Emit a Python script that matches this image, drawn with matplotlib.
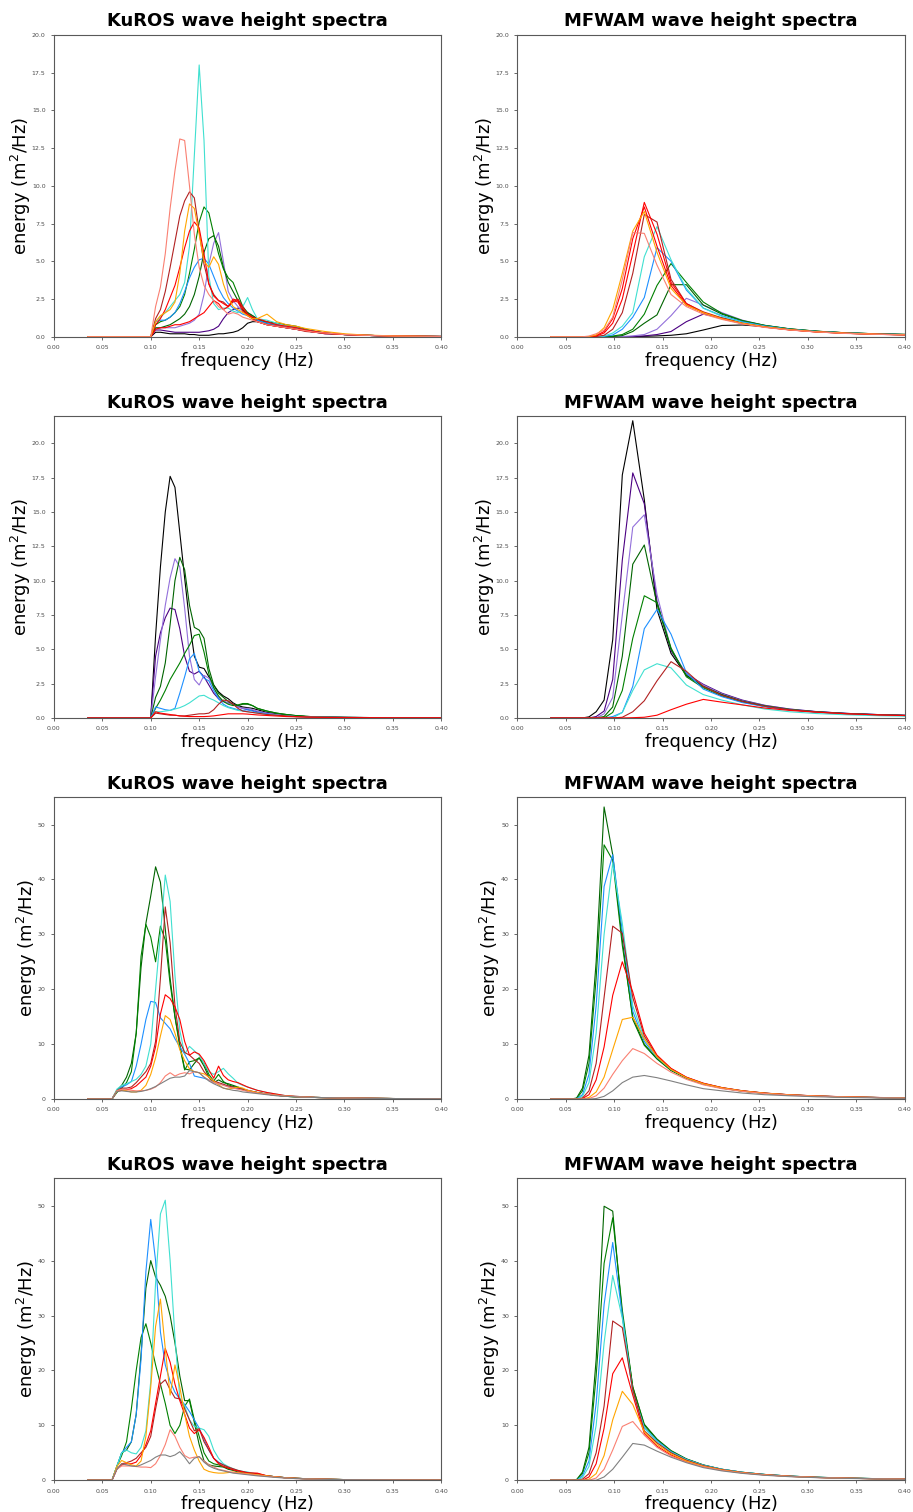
import matplotlib
matplotlib.use('Agg')
import matplotlib.pyplot as plt

# MFWAM frequency bins (Hz)
mfwam_freq = [0.0345, 0.0380, 0.0418, 0.0460, 0.0506, 0.0556, 0.0612, 0.0673, 0.0740,
              0.0814, 0.0896, 0.0985, 0.1084, 0.1192, 0.1311, 0.1442, 0.1587, 0.1745,
              0.1920, 0.2112, 0.2323, 0.2555, 0.2811, 0.3092, 0.3401, 0.3741, 0.4115]

# KuROS frequencies, rows 1-2 and rows 3-4
kuros_freq_a = [0.035, 0.100, 0.105, 0.110, 0.115, 0.120, 0.125, 0.130, 0.135, 0.140,
                0.145, 0.150, 0.155, 0.160, 0.165, 0.170, 0.175, 0.180, 0.185, 0.190,
                0.195, 0.200, 0.205, 0.210, 0.220, 0.230, 0.240, 0.250, 0.260, 0.270,
                0.280, 0.300, 0.320, 0.350, 0.400]
kuros_freq_b = [0.035, 0.060, 0.065, 0.070, 0.075, 0.080, 0.085, 0.090, 0.095, 0.100,
                0.105, 0.110, 0.115, 0.120, 0.125, 0.130, 0.135, 0.140, 0.145, 0.150,
                0.155, 0.160, 0.165, 0.170, 0.175, 0.180, 0.185, 0.190, 0.195, 0.200,
                0.210, 0.220, 0.230, 0.240, 0.250, 0.270, 0.300, 0.350, 0.400]

colors_1 = ['black', 'indigo', 'mediumpurple', 'darkgreen', 'green', 'dodgerblue',
            'turquoise', 'firebrick', 'red', 'red', 'orange', 'salmon']
colors_2 = ['black', 'indigo', 'mediumpurple', 'darkgreen', 'green', 'dodgerblue',
            'turquoise', 'firebrick', 'red']
colors_34 = ['darkgreen', 'green', 'dodgerblue', 'turquoise', 'firebrick', 'red',
             'orange', 'salmon', 'gray']

# ---- row 1 ----
kuros_1 = [
    [0, 0, 0.3, 0.3, 0.25, 0.2, 0.2, 0.2, 0.2, 0.15, 0.15, 0.1, 0.1, 0.1, 0.15, 0.2, 0.2, 0.25, 0.3, 0.4, 0.6, 0.9, 1.0, 1.0, 0.8, 0.7, 0.6, 0.5, 0.4, 0.3, 0.25, 0.15, 0.1, 0.05, 0.02],
    [0, 0, 0.45, 0.45, 0.4, 0.35, 0.3, 0.3, 0.3, 0.3, 0.3, 0.3, 0.35, 0.4, 0.5, 0.7, 1.2, 1.6, 1.8, 1.9, 1.8, 1.6, 1.4, 1.2, 0.9, 0.7, 0.6, 0.5, 0.4, 0.3, 0.2, 0.15, 0.1, 0.05, 0.02],
    [0, 0, 0.5, 0.6, 0.6, 0.6, 0.6, 0.7, 0.8, 0.9, 1.1, 1.5, 2.8, 4.8, 6.2, 6.9, 5.0, 3.0, 2.4, 2.0, 1.7, 1.5, 1.3, 1.1, 0.9, 0.8, 0.7, 0.6, 0.45, 0.35, 0.25, 0.15, 0.1, 0.05, 0.02],
    [0, 0, 0.6, 0.6, 0.7, 0.8, 1.0, 1.2, 1.5, 2.0, 2.8, 4.0, 5.6, 6.5, 6.7, 6.0, 4.6, 3.6, 3.0, 2.4, 1.8, 1.5, 1.3, 1.1, 1.0, 0.9, 0.8, 0.7, 0.5, 0.35, 0.25, 0.15, 0.1, 0.05, 0.02],
    [0, 0, 0.8, 1.0, 1.1, 1.3, 1.6, 2.0, 2.8, 4.2, 5.8, 7.6, 8.6, 8.2, 6.8, 5.5, 4.5, 3.9, 3.6, 2.8, 2.0, 1.6, 1.4, 1.2, 0.9, 0.8, 0.7, 0.6, 0.45, 0.35, 0.25, 0.15, 0.1, 0.05, 0.02],
    [0, 0, 1.0, 1.1, 1.1, 1.3, 1.6, 2.2, 3.0, 3.9, 4.6, 5.1, 5.2, 4.8, 4.0, 3.2, 2.6, 2.2, 1.9, 1.7, 1.5, 1.4, 1.2, 1.1, 0.9, 0.8, 0.7, 0.6, 0.45, 0.35, 0.25, 0.15, 0.1, 0.05, 0.02],
    [0, 0, 1.0, 1.3, 1.6, 2.0, 2.4, 2.8, 3.6, 6.0, 12.0, 18.0, 13.0, 4.0, 2.2, 1.8, 1.9, 1.9, 1.7, 1.6, 2.0, 2.6, 1.8, 1.2, 1.1, 0.9, 0.7, 0.55, 0.4, 0.3, 0.25, 0.15, 0.1, 0.05, 0.02],
    [0, 0, 1.2, 1.8, 3.0, 4.6, 6.3, 8.0, 9.0, 9.6, 9.2, 7.0, 4.8, 3.5, 2.8, 2.4, 2.3, 2.0, 2.3, 2.5, 2.0, 1.5, 1.2, 1.0, 0.8, 0.7, 0.6, 0.5, 0.35, 0.3, 0.2, 0.15, 0.1, 0.05, 0.02],
    [0, 0, 0.8, 1.2, 1.8, 2.6, 3.4, 4.6, 5.9, 7.0, 7.6, 7.2, 5.5, 3.5, 2.7, 2.4, 2.2, 2.0, 2.4, 2.3, 1.7, 1.4, 1.2, 1.0, 0.8, 0.7, 0.6, 0.5, 0.4, 0.3, 0.25, 0.15, 0.1, 0.05, 0.02],
    [0, 0, 0.5, 0.6, 0.6, 0.7, 0.8, 0.8, 0.9, 1.0, 1.2, 1.4, 1.6, 2.0, 2.4, 2.2, 1.8, 2.0, 2.5, 2.4, 1.9, 1.5, 1.3, 1.2, 1.0, 0.8, 0.7, 0.6, 0.45, 0.35, 0.25, 0.15, 0.1, 0.05, 0.02],
    [0, 0, 1.0, 1.4, 1.6, 1.8, 2.3, 4.2, 7.0, 8.8, 8.5, 6.8, 5.0, 4.6, 5.3, 4.8, 3.5, 2.6, 2.0, 1.8, 1.6, 1.4, 1.2, 1.2, 1.5, 1.0, 0.8, 0.7, 0.55, 0.45, 0.35, 0.2, 0.12, 0.06, 0.02],
    [0, 0, 2.0, 3.3, 5.5, 8.5, 11.0, 13.1, 13.0, 10.0, 6.8, 4.6, 3.4, 2.8, 2.4, 2.0, 1.8, 1.5, 1.6, 1.5, 1.3, 1.2, 1.1, 1.0, 0.8, 0.7, 0.6, 0.5, 0.4, 0.3, 0.25, 0.15, 0.1, 0.05, 0.02],
]
mfwam_1 = [
    [0, 0, 0, 0, 0, 0, 0, 0, 0, 0, 0, 0, 0, 0.01, 0.03, 0.06, 0.1, 0.2, 0.45, 0.75, 0.78, 0.68, 0.5, 0.36, 0.26, 0.19, 0.14],
    [0, 0, 0, 0, 0, 0, 0, 0, 0, 0, 0, 0, 0, 0.02, 0.06, 0.15, 0.35, 1.0, 1.5, 1.25, 0.95, 0.68, 0.48, 0.34, 0.24, 0.17, 0.12],
    [0, 0, 0, 0, 0, 0, 0, 0, 0, 0, 0, 0, 0.02, 0.06, 0.15, 0.5, 1.4, 2.55, 2.1, 1.6, 1.1, 0.75, 0.52, 0.36, 0.25, 0.18, 0.13],
    [0, 0, 0, 0, 0, 0, 0, 0, 0, 0, 0, 0.02, 0.08, 0.35, 0.9, 1.45, 3.45, 3.45, 2.1, 1.5, 1.05, 0.75, 0.52, 0.37, 0.26, 0.19, 0.14],
    [0, 0, 0, 0, 0, 0, 0, 0, 0, 0, 0, 0.05, 0.15, 0.5, 1.5, 3.4, 4.85, 3.6, 2.3, 1.55, 1.08, 0.76, 0.53, 0.37, 0.26, 0.19, 0.14],
    [0, 0, 0, 0, 0, 0, 0, 0, 0, 0, 0.03, 0.12, 0.5, 1.3, 2.6, 5.9, 5.0, 3.1, 1.9, 1.4, 1.0, 0.72, 0.5, 0.35, 0.25, 0.18, 0.13],
    [0, 0, 0, 0, 0, 0, 0, 0, 0, 0, 0.05, 0.25, 0.7, 1.6, 5.3, 7.3, 5.1, 3.2, 1.9, 1.35, 0.95, 0.68, 0.48, 0.34, 0.24, 0.17, 0.12],
    [0, 0, 0, 0, 0, 0, 0, 0, 0, 0.02, 0.1, 0.5, 1.6, 4.2, 8.1, 7.6, 3.8, 2.2, 1.65, 1.25, 0.9, 0.66, 0.47, 0.33, 0.23, 0.17, 0.12],
    [0, 0, 0, 0, 0, 0, 0, 0, 0, 0.05, 0.25, 0.9, 2.5, 5.5, 8.9, 6.8, 3.6, 2.2, 1.6, 1.2, 0.88, 0.64, 0.46, 0.32, 0.23, 0.16, 0.12],
    [0, 0, 0, 0, 0, 0, 0, 0, 0, 0.08, 0.35, 1.2, 3.2, 6.5, 8.6, 6.0, 3.4, 2.1, 1.6, 1.2, 0.88, 0.64, 0.46, 0.32, 0.23, 0.16, 0.12],
    [0, 0, 0, 0, 0, 0, 0, 0, 0.02, 0.12, 0.6, 1.8, 4.2, 7.0, 8.3, 5.6, 3.2, 2.1, 1.6, 1.2, 0.9, 0.66, 0.47, 0.33, 0.24, 0.17, 0.12],
    [0, 0, 0, 0, 0, 0, 0, 0, 0.05, 0.2, 0.45, 1.3, 3.8, 6.9, 6.85, 4.75, 2.8, 2.0, 1.5, 1.15, 0.85, 0.62, 0.45, 0.32, 0.22, 0.16, 0.11],
]

# ---- row 2 ----
kuros_2 = [
    [0, 0, 6.0, 11.0, 15.0, 17.6, 16.8, 13.5, 10.2, 7.0, 4.5, 3.7, 3.6, 3.0, 2.4, 1.9, 1.6, 1.4, 1.1, 0.9, 0.8, 0.75, 0.7, 0.6, 0.4, 0.3, 0.22, 0.15, 0.1, 0.08, 0.06, 0.04, 0.03, 0.02, 0.01],
    [0, 0, 4.5, 6.2, 7.3, 8.0, 7.9, 6.5, 4.5, 3.4, 3.2, 3.4, 3.0, 2.4, 1.8, 1.4, 1.2, 1.1, 1.0, 0.8, 0.7, 0.6, 0.55, 0.45, 0.35, 0.25, 0.2, 0.15, 0.1, 0.08, 0.06, 0.04, 0.03, 0.02, 0.01],
    [0, 0, 3.0, 5.7, 8.2, 10.2, 11.6, 11.0, 8.0, 4.5, 2.8, 2.4, 3.1, 2.9, 2.2, 1.5, 1.2, 1.1, 1.0, 0.8, 0.7, 0.7, 0.6, 0.5, 0.35, 0.25, 0.2, 0.15, 0.1, 0.08, 0.06, 0.04, 0.03, 0.02, 0.01],
    [0, 0, 1.5, 2.3, 4.0, 6.8, 10.0, 11.7, 10.8, 8.2, 6.6, 6.4, 5.8, 3.6, 2.4, 1.8, 1.5, 1.2, 1.0, 0.9, 1.0, 1.0, 0.9, 0.7, 0.5, 0.35, 0.25, 0.17, 0.12, 0.08, 0.06, 0.04, 0.03, 0.02, 0.01],
    [0, 0, 0.7, 1.3, 2.0, 2.8, 3.4, 4.0, 4.7, 5.3, 6.0, 6.1, 4.8, 3.2, 2.2, 1.6, 1.2, 1.0, 0.9, 0.95, 1.05, 1.05, 0.9, 0.7, 0.5, 0.35, 0.25, 0.17, 0.12, 0.08, 0.06, 0.04, 0.03, 0.02, 0.01],
    [0, 0, 0.8, 0.7, 0.6, 0.55, 0.7, 1.8, 3.0, 4.3, 4.7, 3.4, 2.9, 2.7, 2.0, 1.4, 1.0, 0.8, 0.7, 0.6, 0.55, 0.6, 0.5, 0.4, 0.3, 0.2, 0.15, 0.1, 0.08, 0.06, 0.05, 0.03, 0.02, 0.01, 0.01],
    [0, 0, 0.45, 0.45, 0.5, 0.55, 0.65, 0.75, 0.9, 1.1, 1.35, 1.6, 1.65, 1.45, 1.3, 1.1, 0.9, 0.75, 0.65, 0.55, 0.5, 0.45, 0.4, 0.35, 0.25, 0.2, 0.15, 0.1, 0.08, 0.06, 0.05, 0.03, 0.02, 0.01, 0.01],
    [0, 0, 0.35, 0.3, 0.25, 0.2, 0.2, 0.15, 0.15, 0.2, 0.25, 0.3, 0.3, 0.35, 0.6, 1.0, 1.3, 1.25, 1.0, 0.7, 0.5, 0.45, 0.4, 0.35, 0.25, 0.2, 0.15, 0.1, 0.08, 0.06, 0.05, 0.03, 0.02, 0.01, 0.01],
    [0, 0, 0.45, 0.35, 0.3, 0.25, 0.2, 0.15, 0.12, 0.1, 0.1, 0.1, 0.1, 0.12, 0.15, 0.2, 0.25, 0.3, 0.3, 0.3, 0.3, 0.28, 0.25, 0.22, 0.18, 0.14, 0.1, 0.08, 0.06, 0.05, 0.04, 0.03, 0.02, 0.01, 0.01],
]
mfwam_2 = [
    [0, 0, 0, 0, 0, 0, 0, 0, 0.08, 0.45, 1.3, 5.7, 17.7, 21.65, 15.9, 7.9, 4.7, 3.1, 2.3, 1.7, 1.2, 0.85, 0.6, 0.45, 0.33, 0.24, 0.17],
    [0, 0, 0, 0, 0, 0, 0, 0, 0, 0.1, 0.5, 2.8, 11.5, 17.85, 15.6, 8.5, 4.9, 3.2, 2.45, 1.8, 1.3, 0.92, 0.65, 0.46, 0.33, 0.24, 0.17],
    [0, 0, 0, 0, 0, 0, 0, 0, 0, 0, 0.3, 1.5, 7.5, 13.9, 14.8, 9.0, 5.0, 3.2, 2.4, 1.75, 1.25, 0.9, 0.64, 0.45, 0.32, 0.23, 0.16],
    [0, 0, 0, 0, 0, 0, 0, 0, 0, 0, 0.1, 0.8, 4.5, 11.2, 12.6, 8.3, 5.0, 3.1, 2.3, 1.7, 1.22, 0.88, 0.62, 0.44, 0.31, 0.22, 0.16],
    [0, 0, 0, 0, 0, 0, 0, 0, 0, 0, 0, 0.4, 2.0, 5.8, 8.9, 8.4, 5.1, 3.0, 2.2, 1.6, 1.17, 0.85, 0.6, 0.43, 0.3, 0.22, 0.15],
    [0, 0, 0, 0, 0, 0, 0, 0, 0, 0, 0, 0.1, 0.4, 2.3, 6.5, 7.9, 6.1, 3.3, 2.1, 1.55, 1.12, 0.82, 0.58, 0.41, 0.29, 0.21, 0.15],
    [0, 0, 0, 0, 0, 0, 0, 0, 0, 0, 0, 0, 0.4, 2.0, 3.5, 3.95, 3.65, 2.4, 1.7, 1.3, 0.95, 0.65, 0.45, 0.32, 0.23, 0.16, 0.12],
    [0, 0, 0, 0, 0, 0, 0, 0, 0, 0, 0, 0, 0.05, 0.45, 1.25, 2.7, 4.1, 3.4, 2.3, 1.65, 1.2, 0.85, 0.6, 0.43, 0.31, 0.22, 0.16],
    [0, 0, 0, 0, 0, 0, 0, 0, 0, 0, 0, 0, 0, 0.02, 0.05, 0.2, 0.6, 1.0, 1.35, 1.15, 0.95, 0.72, 0.55, 0.42, 0.3, 0.22, 0.16],
]

# ---- row 3 ----
kuros_3 = [
    [0, 0, 1.5, 2.5, 4.0, 6.5, 12.0, 24.0, 32.0, 37.0, 42.3, 39.5, 31.0, 22.0, 15.0, 10.0, 5.5, 5.3, 6.5, 7.5, 6.0, 4.0, 3.0, 3.5, 3.0, 2.8, 2.5, 2.2, 1.8, 1.5, 1.2, 0.9, 0.7, 0.5, 0.4, 0.3, 0.2, 0.1, 0.05],
    [0, 0, 1.2, 2.0, 3.0, 5.0, 12.0, 26.0, 31.8, 29.5, 25.0, 31.5, 29.0, 21.0, 15.0, 9.5, 5.3, 6.8, 7.0, 7.5, 6.5, 4.5, 3.3, 4.5, 3.2, 2.6, 2.3, 2.1, 1.8, 1.5, 1.2, 0.9, 0.7, 0.5, 0.4, 0.3, 0.2, 0.1, 0.05],
    [0, 0, 1.5, 2.2, 2.6, 3.2, 6.0, 10.0, 14.5, 17.8, 17.6, 14.8, 13.8, 12.8, 11.0, 9.5, 8.2, 6.5, 4.2, 4.0, 3.8, 3.5, 3.0, 2.8, 2.6, 2.3, 2.0, 1.9, 1.8, 1.6, 1.2, 0.9, 0.7, 0.55, 0.45, 0.3, 0.2, 0.1, 0.05],
    [0, 0, 1.8, 2.5, 2.8, 3.2, 3.6, 4.5, 6.0, 10.0, 20.0, 30.0, 40.8, 36.0, 22.5, 12.5, 8.2, 9.6, 8.8, 8.0, 6.5, 5.0, 4.5, 5.0, 5.6, 4.6, 3.8, 2.9, 2.5, 2.2, 1.6, 1.2, 0.9, 0.6, 0.5, 0.3, 0.2, 0.1, 0.05],
    [0, 0, 1.5, 2.0, 2.0, 2.2, 3.0, 4.0, 5.0, 6.5, 10.5, 22.0, 35.0, 28.5, 17.0, 10.5, 8.5, 8.0, 7.2, 6.5, 5.0, 4.0, 3.3, 3.0, 2.7, 2.4, 2.2, 2.0, 1.8, 1.6, 1.2, 0.9, 0.7, 0.55, 0.45, 0.3, 0.2, 0.1, 0.05],
    [0, 0, 1.4, 1.6, 1.7, 1.9, 2.4, 3.2, 4.0, 6.0, 9.5, 15.5, 19.0, 18.3, 16.8, 14.5, 10.5, 8.0, 8.6, 8.2, 7.0, 5.3, 3.8, 6.0, 4.3, 3.5, 3.2, 3.0, 2.6, 2.2, 1.6, 1.2, 0.9, 0.6, 0.5, 0.3, 0.2, 0.1, 0.05],
    [0, 0, 1.5, 1.7, 1.5, 1.3, 1.3, 1.6, 2.5, 4.5, 7.5, 11.5, 15.2, 14.5, 12.0, 9.0, 7.0, 5.5, 5.0, 4.8, 4.6, 4.0, 3.3, 2.6, 2.0, 1.8, 2.0, 2.2, 2.0, 1.6, 1.2, 0.9, 0.7, 0.55, 0.45, 0.3, 0.2, 0.1, 0.05],
    [0, 0, 1.5, 1.8, 1.7, 1.6, 1.5, 1.5, 1.6, 1.8, 2.2, 3.0, 4.2, 4.8, 4.2, 4.6, 4.8, 4.6, 5.0, 4.8, 4.0, 3.5, 3.0, 2.8, 2.5, 2.2, 2.0, 1.8, 1.6, 1.4, 1.1, 0.9, 0.7, 0.55, 0.45, 0.3, 0.2, 0.1, 0.05],
    [0, 0, 1.4, 1.5, 1.4, 1.3, 1.3, 1.4, 1.6, 1.9, 2.3, 2.8, 3.3, 3.8, 4.0, 4.0, 4.2, 5.2, 5.0, 4.8, 4.0, 3.3, 2.8, 2.4, 2.0, 1.8, 1.6, 1.5, 1.3, 1.2, 1.0, 0.8, 0.6, 0.5, 0.4, 0.3, 0.2, 0.1, 0.05],
]
mfwam_3 = [
    [0, 0, 0, 0, 0, 0, 0.2, 2.0, 8.0, 25.0, 53.2, 44.5, 29.0, 14.5, 9.8, 7.3, 5.2, 3.8, 2.7, 2.0, 1.45, 1.05, 0.75, 0.53, 0.38, 0.27, 0.19],
    [0, 0, 0, 0, 0, 0, 0.1, 1.5, 6.5, 22.0, 46.3, 43.5, 28.0, 15.0, 10.0, 7.4, 5.3, 3.85, 2.75, 2.0, 1.45, 1.05, 0.75, 0.53, 0.38, 0.27, 0.19],
    [0, 0, 0, 0, 0, 0, 0.05, 0.8, 4.5, 17.0, 38.7, 44.5, 30.5, 16.0, 10.5, 7.6, 5.4, 3.9, 2.8, 2.05, 1.48, 1.07, 0.77, 0.55, 0.39, 0.28, 0.2],
    [0, 0, 0, 0, 0, 0, 0.02, 0.5, 3.0, 12.0, 30.0, 43.0, 32.0, 17.0, 11.0, 7.7, 5.5, 3.95, 2.85, 2.07, 1.5, 1.08, 0.78, 0.56, 0.4, 0.28, 0.2],
    [0, 0, 0, 0, 0, 0, 0, 0.2, 1.5, 6.5, 18.5, 31.5, 30.2, 18.5, 11.5, 7.8, 5.5, 3.95, 2.85, 2.07, 1.5, 1.08, 0.78, 0.56, 0.4, 0.28, 0.2],
    [0, 0, 0, 0, 0, 0, 0, 0.1, 0.8, 3.5, 9.5, 18.9, 25.0, 19.5, 12.0, 8.0, 5.6, 4.0, 2.9, 2.1, 1.52, 1.1, 0.79, 0.57, 0.41, 0.29, 0.2],
    [0, 0, 0, 0, 0, 0, 0, 0, 0.3, 1.3, 4.0, 9.0, 14.5, 14.9, 11.0, 7.7, 5.4, 3.9, 2.8, 2.05, 1.48, 1.07, 0.77, 0.55, 0.39, 0.28, 0.2],
    [0, 0, 0, 0, 0, 0, 0, 0, 0.1, 0.6, 2.0, 4.5, 7.0, 9.2, 8.3, 6.5, 4.9, 3.6, 2.6, 1.9, 1.4, 1.0, 0.72, 0.52, 0.37, 0.26, 0.18],
    [0, 0, 0, 0, 0, 0, 0, 0, 0, 0.1, 0.5, 1.5, 3.0, 4.0, 4.3, 3.9, 3.3, 2.6, 1.9, 1.5, 1.1, 0.8, 0.6, 0.42, 0.3, 0.21, 0.15],
]

# ---- row 4 ----
kuros_4 = [
    [0, 0, 2.5, 5.0, 5.5, 7.0, 12.0, 23.0, 35.0, 40.0, 37.0, 35.5, 33.5, 30.0, 25.0, 19.0, 14.5, 14.5, 10.5, 6.5, 3.5, 2.8, 2.6, 2.5, 2.4, 2.0, 1.8, 1.5, 1.4, 1.3, 1.0, 0.8, 0.6, 0.45, 0.35, 0.22, 0.12, 0.05, 0.02],
    [0, 0, 2.5, 4.5, 7.0, 13.0, 20.0, 26.0, 28.5, 25.0, 21.0, 17.5, 14.0, 10.0, 8.5, 10.0, 13.5, 14.8, 11.0, 8.0, 5.0, 3.5, 3.0, 2.8, 2.5, 2.2, 1.9, 1.7, 1.5, 1.3, 1.0, 0.8, 0.6, 0.45, 0.35, 0.22, 0.12, 0.05, 0.02],
    [0, 0, 2.5, 5.0, 6.0, 7.0, 12.0, 22.0, 38.0, 47.5, 40.0, 27.0, 21.0, 18.0, 16.0, 14.8, 13.8, 12.5, 11.0, 9.5, 7.5, 5.5, 4.0, 3.3, 2.8, 2.4, 2.0, 1.7, 1.5, 1.3, 1.0, 0.8, 0.6, 0.45, 0.35, 0.22, 0.12, 0.05, 0.02],
    [0, 0, 2.5, 5.0, 5.5, 5.0, 4.8, 6.0, 9.0, 18.0, 36.0, 48.5, 51.0, 40.0, 26.0, 15.0, 13.5, 11.0, 9.8, 9.5, 9.2, 8.0, 5.5, 4.0, 3.0, 2.5, 2.1, 1.8, 1.6, 1.5, 1.1, 0.8, 0.6, 0.45, 0.35, 0.22, 0.12, 0.05, 0.02],
    [0, 0, 2.0, 3.0, 3.2, 3.5, 4.0, 5.0, 6.0, 8.0, 13.0, 17.5, 18.3, 16.5, 15.0, 14.8, 13.0, 11.0, 9.0, 9.4, 7.0, 5.5, 4.0, 3.2, 2.8, 2.4, 2.1, 1.8, 1.6, 1.4, 1.2, 0.8, 0.6, 0.45, 0.35, 0.22, 0.12, 0.05, 0.02],
    [0, 0, 2.0, 2.8, 3.0, 3.0, 3.3, 4.5, 6.5, 9.0, 14.0, 19.0, 24.0, 21.5, 17.5, 14.5, 12.0, 9.5, 8.5, 9.2, 7.8, 6.0, 4.0, 3.0, 2.5, 2.2, 1.9, 1.7, 1.5, 1.3, 1.3, 0.8, 0.6, 0.45, 0.35, 0.22, 0.12, 0.05, 0.02],
    [0, 0, 2.5, 3.6, 3.2, 2.8, 2.6, 3.5, 8.0, 17.0, 28.0, 33.0, 24.0, 15.5, 21.0, 17.0, 12.0, 8.0, 5.5, 3.5, 2.0, 1.6, 1.4, 1.3, 1.3, 1.4, 1.5, 1.4, 1.3, 1.2, 1.0, 0.8, 0.6, 0.45, 0.35, 0.22, 0.12, 0.05, 0.02],
    [0, 0, 2.0, 2.6, 2.6, 2.6, 2.5, 2.4, 2.4, 2.3, 3.0, 4.5, 6.5, 9.2, 8.0, 6.0, 4.5, 4.0, 4.2, 4.3, 3.5, 2.8, 2.4, 2.0, 1.8, 1.6, 1.4, 1.3, 1.2, 1.1, 0.9, 0.7, 0.55, 0.4, 0.3, 0.2, 0.1, 0.05, 0.02],
    [0, 0, 2.0, 3.0, 2.8, 2.6, 2.5, 2.8, 3.2, 3.6, 4.2, 4.6, 4.6, 4.3, 4.6, 5.2, 4.2, 3.0, 4.0, 4.3, 3.3, 2.6, 2.2, 1.9, 1.7, 1.5, 1.3, 1.2, 1.1, 1.0, 0.8, 0.65, 0.5, 0.4, 0.3, 0.2, 0.1, 0.05, 0.02],
]
mfwam_4 = [
    [0, 0, 0, 0, 0, 0, 0.1, 1.5, 6.0, 22.0, 49.9, 49.0, 30.0, 17.0, 10.2, 7.5, 5.4, 3.9, 2.8, 2.0, 1.45, 1.05, 0.75, 0.55, 0.4, 0.28, 0.2],
    [0, 0, 0, 0, 0, 0, 0.1, 1.2, 5.0, 19.0, 39.5, 47.8, 31.0, 17.0, 10.0, 7.4, 5.3, 3.85, 2.75, 2.0, 1.45, 1.05, 0.75, 0.54, 0.39, 0.28, 0.2],
    [0, 0, 0, 0, 0, 0, 0, 0.8, 3.5, 14.0, 32.0, 43.3, 30.0, 16.0, 9.6, 7.2, 5.2, 3.8, 2.75, 2.0, 1.45, 1.05, 0.75, 0.54, 0.39, 0.28, 0.2],
    [0, 0, 0, 0, 0, 0, 0, 0.5, 2.5, 10.0, 25.0, 37.3, 29.5, 16.0, 9.5, 7.0, 5.1, 3.75, 2.7, 1.97, 1.43, 1.03, 0.74, 0.53, 0.38, 0.27, 0.19],
    [0, 0, 0, 0, 0, 0, 0, 0.2, 1.2, 5.0, 13.5, 29.0, 27.8, 16.5, 9.0, 6.8, 5.0, 3.65, 2.65, 1.93, 1.4, 1.01, 0.73, 0.52, 0.37, 0.27, 0.19],
    [0, 0, 0, 0, 0, 0, 0, 0, 0.6, 3.0, 9.5, 19.4, 22.3, 15.5, 8.5, 6.2, 4.6, 3.4, 2.5, 1.85, 1.35, 0.98, 0.71, 0.51, 0.37, 0.26, 0.19],
    [0, 0, 0, 0, 0, 0, 0, 0, 0.2, 1.2, 4.5, 11.0, 16.2, 13.8, 8.8, 6.5, 4.8, 3.5, 2.55, 1.87, 1.36, 0.98, 0.71, 0.51, 0.37, 0.26, 0.19],
    [0, 0, 0, 0, 0, 0, 0, 0, 0, 0.4, 2.0, 5.5, 9.8, 10.7, 8.2, 6.0, 4.4, 3.3, 2.45, 1.8, 1.32, 0.96, 0.7, 0.5, 0.36, 0.26, 0.18],
    [0, 0, 0, 0, 0, 0, 0, 0, 0, 0, 0.6, 2.0, 4.2, 6.7, 6.4, 5.3, 4.2, 3.2, 2.3, 1.7, 1.25, 0.9, 0.65, 0.47, 0.34, 0.24, 0.17],
]

rows = [
    (kuros_freq_a, kuros_1, mfwam_1, colors_1, 20),
    (kuros_freq_a, kuros_2, mfwam_2, colors_2, 22),
    (kuros_freq_b, kuros_3, mfwam_3, colors_34, 55),
    (kuros_freq_b, kuros_4, mfwam_4, colors_34, 55),
]

fig, axes = plt.subplots(4, 2, figsize=(9.13, 15.12), dpi=100)
plt.subplots_adjust(left=0.059, right=0.991, top=0.977, bottom=0.021,
                    wspace=0.196, hspace=0.262)

for r, (kfreq, kuros, mfwam, cols, ytop) in enumerate(rows):
    for c, (name, freq, spectra) in enumerate([('KuROS', kfreq, kuros),
                                                ('MFWAM', mfwam_freq, mfwam)]):
        ax = axes[r, c]
        for spec, col in zip(spectra, cols):
            ax.plot(freq, spec, color=col, lw=0.8)
        ax.set_xlim(0, 0.4)
        ax.set_ylim(0, ytop)
        ax.set_title(name + ' wave height spectra', fontsize=13, fontweight='bold')
        ax.set_xlabel('frequency (Hz)', fontsize=13, labelpad=1)
        ax.set_ylabel('energy (m$^2$/Hz)', fontsize=13, labelpad=-1)
        ax.tick_params(labelsize=4.5, length=2.5, width=0.6, colors='0.3')
        for sp in ax.spines.values():
            sp.set_color('0.35')
            sp.set_linewidth(0.8)

plt.savefig('out.png', dpi=100)
